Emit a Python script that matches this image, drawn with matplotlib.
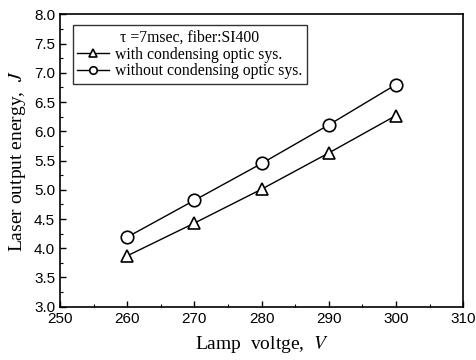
import matplotlib.pyplot as plt
from matplotlib.ticker import MultipleLocator

plt.rcParams['mathtext.fontset'] = 'stix'

voltage = [260, 270, 280, 290, 300]
with_cond = [3.87, 4.43, 5.01, 5.63, 6.27]
without_cond = [4.19, 4.82, 5.45, 6.11, 6.80]

serif = ['Liberation Serif', 'DejaVu Serif']
sans = ['Liberation Sans', 'DejaVu Sans']

fig = plt.figure(figsize=(4.76, 3.6), dpi=100)
ax = fig.add_axes([0.126, 0.148, 0.847, 0.812])

ax.plot(voltage, with_cond, '-', marker='^', color='black', lw=1.0,
        markersize=9, markerfacecolor='white', markeredgewidth=1.2,
        label='with condensing optic sys.')
ax.plot(voltage, without_cond, '-', marker='o', color='black', lw=1.0,
        markersize=9, markerfacecolor='white', markeredgewidth=1.2,
        label='without condensing optic sys.')

ax.set_xlim(250, 310)
ax.set_ylim(3.0, 8.0)
ax.xaxis.set_major_locator(MultipleLocator(10))
ax.xaxis.set_minor_locator(MultipleLocator(5))
ax.yaxis.set_major_locator(MultipleLocator(0.5))
ax.yaxis.set_minor_locator(MultipleLocator(0.25))
ax.yaxis.set_major_formatter(plt.FormatStrFormatter('%.1f'))
ax.tick_params(which='both', direction='in', top=False, right=False)
ax.tick_params(which='major', length=4, width=1)
ax.tick_params(which='minor', length=2, width=0.8)
for lab in ax.get_xticklabels() + ax.get_yticklabels():
    lab.set_family(sans)
    lab.set_fontsize(11)
for s in ax.spines.values():
    s.set_linewidth(1.2)

ax.set_xlabel('Lamp  voltge,  $\\mathit{V}$', family=serif, fontsize=14, labelpad=6)
ax.set_ylabel('Laser output energy,  $\\mathit{J}$', family=serif, fontsize=14, labelpad=4)

leg = ax.legend(loc='upper left', bbox_to_anchor=(0.012, 0.99),
                title='\u03c4 =7msec, fiber:SI400', frameon=True, fancybox=False,
                edgecolor='black', handlelength=2.0, handletextpad=0.4,
                borderpad=0.3, labelspacing=0.05, markerscale=0.6,
                prop={'family': serif, 'size': 11.3})
leg.get_title().set_family(serif)
leg.get_title().set_fontsize(11.3)
leg.get_frame().set_linewidth(1.0)

fig.savefig('out.png', dpi=100)
